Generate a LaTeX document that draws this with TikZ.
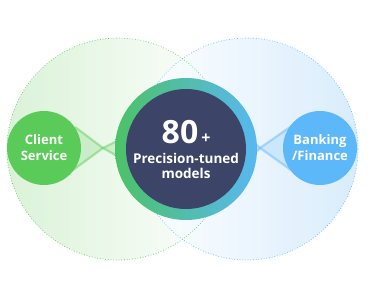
\documentclass[tikz,border=0pt]{standalone}
\usepackage{fontspec}
\setmainfont{Open Sans}
\usetikzlibrary{calc}
\definecolor{lgreen}{HTML}{5ACB58}
\definecolor{lblue}{HTML}{5CB8F8}
\definecolor{ringgreen}{HTML}{4CC266}
\definecolor{ringblue}{HTML}{58B8F2}
\definecolor{darkc}{HTML}{3C4567}
\definecolor{bgreen}{HTML}{D6F1D3}
\definecolor{bblue}{HTML}{D2E9FC}
\tikzset{
  bigc/.style={line width=0.7pt, dash pattern=on 0.7pt off 2pt},
  smallc/.style={circle, minimum size=74pt, inner sep=0pt, text=white, font=\bfseries\fontsize{13}{16}\selectfont, align=center},
  conn/.style={line width=2.2pt, opacity=0.45},
  lbl/.style={text=white, inner sep=0pt}
}
\begin{document}
\begin{tikzpicture}[x=1pt,y=1pt]
\useasboundingbox (0,0) rectangle (370,-282);
% big circles
\shade[left color=bgreen, right color=white, opacity=0.9] (118,-149) circle (111);
\shade[left color=white, right color=bblue, opacity=0.85] (247,-149) circle (111);
\draw[bigc, draw=lgreen] (118,-149) circle (111);
\draw[bigc, draw=lblue] (247,-149) circle (111);
% connectors left
\coordinate (lt) at (75,-127);
\coordinate (lb) at (73,-170);
\coordinate (lx) at (103,-148);
\coordinate (lrt) at (117,-141);
\coordinate (lrb) at (117,-156);
\fill[lgreen, opacity=0.2] (lt) -- (lx) -- (lb) -- cycle;
\fill[lgreen, opacity=0.2] (lx) -- (lrt) -- (lrb) -- cycle;
\draw[conn, lgreen] (lt) -- (lx) -- (lrb);
\draw[conn, lgreen] (lb) -- (lx) -- (lrt);
% connectors right
\coordinate (rt) at (293,-125);
\coordinate (rb) at (291,-170);
\coordinate (rx) at (260,-148);
\coordinate (rlt) at (253,-142);
\coordinate (rlb) at (253,-155);
\fill[lblue, opacity=0.2] (rt) -- (rx) -- (rb) -- cycle;
\fill[lblue, opacity=0.2] (rx) -- (rlt) -- (rlb) -- cycle;
\draw[conn, lblue] (rt) -- (rx) -- (rlb);
\draw[conn, lblue] (rb) -- (rx) -- (rlt);
% central circle
\shade[left color=ringgreen, right color=ringblue] (186,-149) circle (71);
\fill[darkc] (186,-149) circle (60);
\node[lbl, anchor=base, font=\bfseries\fontsize{32}{32}\selectfont] (num) at (180,-143) {80};
\node[lbl, anchor=base west, font=\bfseries\fontsize{16}{16}\selectfont] (plus) at (num.base east) {\,+};
\node[lbl, anchor=base, font=\bfseries\fontsize{13.5}{14}\selectfont] (pt) at (186,-163) {Precision-tuned};
\node[lbl, anchor=base, font=\bfseries\fontsize{13.5}{14}\selectfont] (md) at (186,-178) {models};
% small circles
\node[smallc, fill=lgreen] (cs) at (44,-148) {Client\\Service};
\node[smallc, fill=lblue] (bf) at (320,-148) {Banking\\/Finance};
\end{tikzpicture}
\end{document}
